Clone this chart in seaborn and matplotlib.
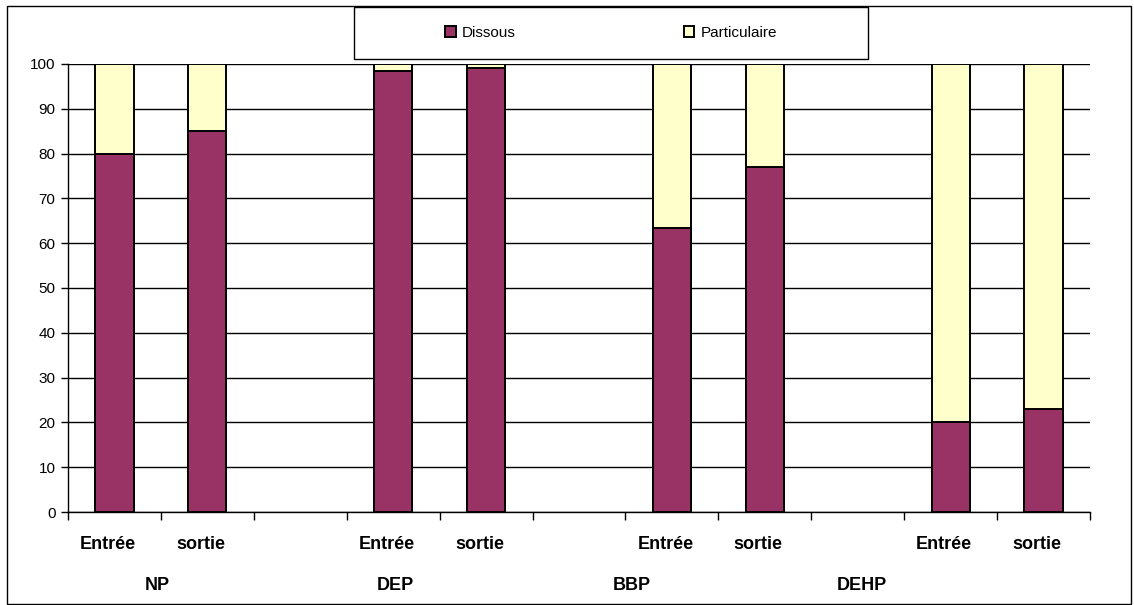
import pandas as pd
import numpy as np
import matplotlib
matplotlib.use('Agg')
import matplotlib.pyplot as plt
import seaborn as sns
from matplotlib.patches import Rectangle

# data
groups = ['NP', 'DEP', 'BBP', 'DEHP']
stages = ['Entrée', 'sortie']
dissous = [80, 85, 98.5, 99, 63.5, 77, 20, 23]
particulaire = [20, 15, 1.5, 1, 36.5, 23, 80, 77]

sns.set_style('white')
plt.rcParams['font.family'] = ['Liberation Sans', 'DejaVu Sans']
plt.rcParams['text.color'] = 'black'
plt.rcParams['xtick.color'] = 'black'
plt.rcParams['ytick.color'] = 'black'

# build table: each group takes 3 slots (2 bars + 1 gap)
rows = []
i = 0
for g_idx, g in enumerate(groups):
    for s_idx, s in enumerate(stages):
        rows.append({'group': g, 'stage': s, 'pos': g_idx * 3 + s_idx,
                     'dissous': dissous[i], 'particulaire': particulaire[i]})
        i += 1
df = pd.DataFrame(rows)
df['total'] = df['dissous'] + df['particulaire']

fig = plt.figure(figsize=(11.34, 6.05), dpi=100)
ax = fig.add_axes([68/1134, 1 - 512/605, (1090 - 68)/1134, 448/605])

purple = '#993366'
yellow = '#FFFFCC'

sns.barplot(data=df, x='pos', y='total', native_scale=True, width=0.41,
            color=yellow, saturation=1, edgecolor='black', linewidth=1.4,
            errorbar=None, label='Particulaire', ax=ax, zorder=3)
sns.barplot(data=df, x='pos', y='dissous', native_scale=True, width=0.41,
            color=purple, saturation=1, edgecolor='black', linewidth=1.4,
            errorbar=None, label='Dissous', ax=ax, zorder=3)
handles, labels = ax.get_legend_handles_labels()
if ax.get_legend() is not None:
    ax.get_legend().remove()

ax.set_xlim(-0.5, 10.5)
ax.set_ylim(0, 100)
ax.set_yticks(np.arange(0, 101, 10))
ax.yaxis.grid(True, color='black', linewidth=1)
ax.set_axisbelow(True)
ax.set_xlabel('')
ax.set_ylabel('')

for side in ['top', 'right']:
    ax.spines[side].set_visible(False)
for side in ['left', 'bottom']:
    ax.spines[side].set_color('black')
    ax.spines[side].set_linewidth(1)

# major ticks at slot boundaries, minor ticks carry the stage labels
ax.set_xticks(np.arange(-0.5, 11, 1))
ax.set_xticklabels([])
ax.set_xticks(df['pos'] - 0.07, minor=True)
ax.set_xticklabels(df['stage'], minor=True, fontsize=13, fontweight='bold')
ax.tick_params(axis='x', which='major', direction='out', length=6, width=1,
               color='black', bottom=True)
ax.tick_params(axis='x', which='minor', length=0, pad=17)
ax.tick_params(axis='y', direction='out', length=5, width=1, color='black',
               left=True, labelsize=11, pad=4)

# group labels
group_label_x = [0.46, 3.02, 5.57, 8.04]
for gx, g in zip(group_label_x, groups):
    ax.text(gx, -0.163, g, transform=ax.get_xaxis_transform(), ha='center',
            va='center', fontsize=13, fontweight='bold')

# legend box and outer frame
fig.patches.append(Rectangle((7/1134, 1/605), (1131 - 7)/1134, (598 - 0)/605,
                             transform=fig.transFigure, fill=False,
                             edgecolor='black', linewidth=1))
fig.patches.append(Rectangle((354/1134, 1 - 59/605), (868 - 354)/1134, (59 - 7)/605,
                             transform=fig.transFigure, fill=False,
                             edgecolor='black', linewidth=1))
order = [labels.index('Dissous'), labels.index('Particulaire')]
fig.legend([handles[k] for k in order], [labels[k] for k in order],
           loc='center', bbox_to_anchor=(611/1134, 1 - 33/605), ncol=2,
           frameon=False, fontsize=11, handlelength=0.7, handleheight=0.7,
           handletextpad=0.4, columnspacing=11)

fig.savefig('out.png', dpi=100)
